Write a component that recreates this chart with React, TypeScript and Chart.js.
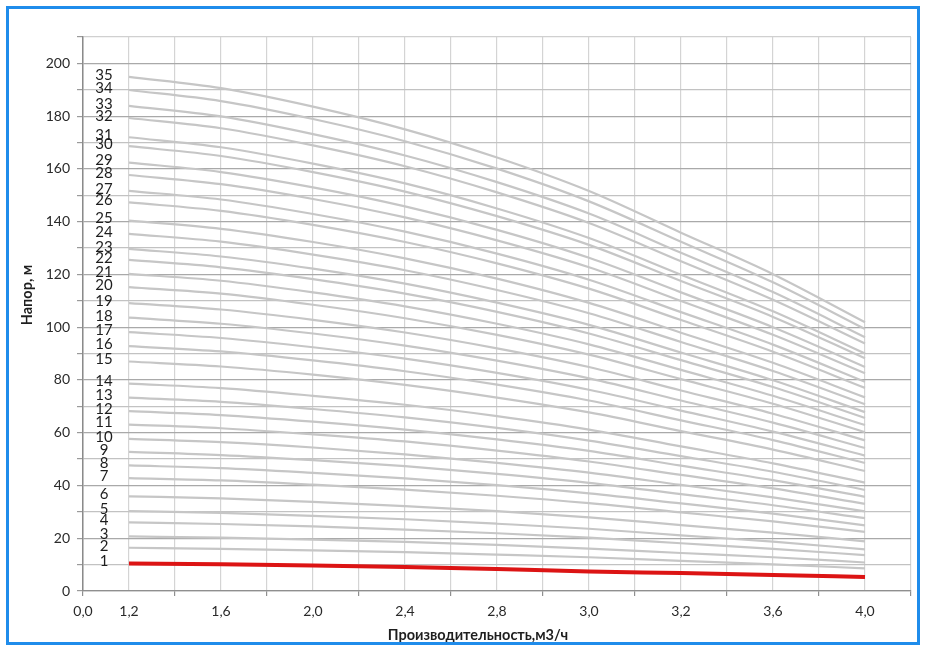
import React, { useEffect, useRef } from "react";
import { Chart, registerables } from "chart.js";

Chart.register(...registerables);

// Flow categories (m3/h) and their slot positions on the category grid
const flowLabels = ["1,2", "1,6", "2,0", "2,4", "2,8", "3,0", "3,2", "3,6", "4,0"];
const flowPositions = [1, 3, 5, 7, 9, 11, 13, 15, 17];

// X tick labels shown under the axis
const xTickLabels = ["0,0", "1,2", "1,6", "2,0", "2,4", "2,8", "3,0", "3,2", "3,6", "4,0"];
const xTickPositions = [0, 1, 3, 5, 7, 9, 11, 13, 15, 17];

const xTitle = "Производительность,м3/ч";
const yTitle = "Напор, м";

// Head (m) per stage count, read at each flow category
const stage01 = [10.4, 10.1, 9.7, 9.1, 8.3, 7.4, 6.8, 6.1, 5.3];
const stage02 = [16.4, 16.0, 15.4, 14.7, 13.8, 12.8, 11.4, 10.1, 8.6];
const stage03 = [20.7, 20.2, 19.5, 18.6, 17.5, 16.1, 14.4, 12.8, 10.8];
const stage04 = [26.0, 25.4, 24.5, 23.3, 21.9, 20.2, 18.1, 16.0, 13.6];
const stage05 = [30.3, 29.6, 28.5, 27.2, 25.5, 23.6, 21.1, 18.7, 15.8];
const stage06 = [35.9, 35.1, 33.8, 32.2, 30.3, 27.9, 25.0, 22.1, 18.8];
const stage07 = [42.8, 41.9, 40.3, 38.4, 36.1, 33.3, 29.8, 26.4, 22.4];
const stage08 = [47.6, 46.6, 44.8, 42.7, 40.1, 37.0, 33.2, 29.3, 24.9];
const stage09 = [52.7, 51.5, 49.6, 47.3, 44.4, 41.0, 36.7, 32.5, 27.6];
const stage10 = [57.7, 56.4, 54.4, 51.8, 48.6, 44.9, 40.2, 35.5, 30.2];
const stage11 = [63.1, 61.7, 59.4, 56.7, 53.2, 49.1, 44.0, 38.9, 33.0];
const stage12 = [68.2, 66.7, 64.2, 61.2, 57.5, 53.1, 47.5, 42.0, 35.7];
const stage13 = [73.3, 71.7, 69.0, 65.8, 61.8, 57.0, 51.1, 45.2, 38.3];
const stage14 = [78.6, 76.9, 74.0, 70.6, 66.3, 61.2, 54.8, 48.4, 41.1];
const stage15 = [87.0, 85.1, 82.0, 78.1, 73.3, 67.7, 60.6, 53.6, 45.5];
const stage16 = [92.8, 90.8, 87.4, 83.3, 78.2, 72.2, 64.7, 57.2, 48.5];
const stage17 = [98.1, 95.9, 92.4, 88.1, 82.7, 76.3, 68.4, 60.4, 51.3];
const stage18 = [103.6, 101.3, 97.6, 93.0, 87.3, 80.6, 72.2, 63.8, 54.2];
const stage19 = [109.1, 106.7, 102.8, 98.0, 92.0, 84.9, 76.0, 67.2, 57.1];
const stage20 = [115.2, 112.7, 108.5, 103.4, 97.1, 89.6, 80.3, 71.0, 60.2];
const stage21 = [120.2, 117.6, 113.2, 107.9, 101.3, 93.5, 83.8, 74.0, 62.9];
const stage22 = [125.5, 122.7, 118.2, 112.7, 105.8, 97.6, 87.5, 77.3, 65.6];
const stage23 = [129.7, 126.8, 122.2, 116.5, 109.3, 100.9, 90.4, 79.9, 67.8];
const stage24 = [135.4, 132.4, 127.5, 121.6, 114.1, 105.3, 94.4, 83.4, 70.8];
const stage25 = [140.4, 137.3, 132.3, 126.1, 118.4, 109.2, 97.9, 86.5, 73.4];
const stage26 = [147.3, 144.1, 138.8, 132.3, 124.2, 114.6, 102.7, 90.7, 77.0];
const stage27 = [151.7, 148.4, 142.9, 136.2, 127.9, 118.0, 105.7, 93.4, 79.3];
const stage28 = [157.7, 154.2, 148.6, 141.6, 132.9, 122.7, 109.9, 97.1, 82.5];
const stage29 = [162.4, 158.8, 153.0, 145.8, 136.9, 126.3, 113.2, 100.0, 84.9];
const stage30 = [168.6, 164.9, 158.8, 151.4, 142.1, 131.2, 117.5, 103.9, 88.2];
const stage31 = [172.0, 168.2, 162.0, 154.5, 145.0, 133.8, 119.9, 106.0, 90.0];
const stage32 = [179.3, 175.4, 168.9, 161.0, 151.1, 139.5, 125.0, 110.4, 93.8];
const stage33 = [183.9, 179.9, 173.2, 165.1, 155.0, 143.1, 128.2, 113.3, 96.2];
const stage34 = [189.9, 185.7, 178.9, 170.5, 160.1, 147.7, 132.4, 117.0, 99.3];
const stage35 = [194.9, 190.6, 183.6, 175.0, 164.3, 151.6, 135.8, 120.1, 101.9];

const stages = [
  stage01, stage02, stage03, stage04, stage05, stage06, stage07, stage08, stage09, stage10,
  stage11, stage12, stage13, stage14, stage15, stage16, stage17, stage18, stage19, stage20,
  stage21, stage22, stage23, stage24, stage25, stage26, stage27, stage28, stage29, stage30,
  stage31, stage32, stage33, stage34, stage35,
];
const stageNames = [
  "1", "2", "3", "4", "5", "6", "7", "8", "9", "10",
  "11", "12", "13", "14", "15", "16", "17", "18", "19", "20",
  "21", "22", "23", "24", "25", "26", "27", "28", "29", "30",
  "31", "32", "33", "34", "35",
];

const FONT = "Lato, 'Open Sans', sans-serif";

export default function App() {
  const canvasRef = useRef<HTMLCanvasElement | null>(null);

  useEffect(() => {
    const canvas = canvasRef.current;
    if (!canvas) return;

    const overlay = {
      id: "overlay",
      afterDraw(chart: any) {
        const { ctx } = chart;
        const xs = chart.scales.x;
        const ys = chart.scales.y;
        ctx.save();
        ctx.fillStyle = "#1e1e1e";
        ctx.textAlign = "center";
        ctx.textBaseline = "middle";
        ctx.font = `15px ${FONT}`;
        stages.forEach((vals, i) => {
          const px = xs.getPixelForValue(flowPositions[0]) - 25;
          const py = ys.getPixelForValue(vals[0]) - 2;
          ctx.fillText(stageNames[i], px, py);
        });
        ctx.font = `bold 14.5px ${FONT}`;
        ctx.fillText(xTitle, 478, 635);
        ctx.translate(27, 295);
        ctx.rotate(-Math.PI / 2);
        ctx.fillText(yTitle, 0, 0);
        ctx.restore();
      },
    };

    const datasets = stages.map((vals, i) => ({
      label: stageNames[i],
      data: vals.map((v, j) => ({ x: flowPositions[j], y: v })),
      borderColor: i === 0 ? "#dc1414" : "#c6c6c6",
      borderWidth: i === 0 ? 4 : 2.2,
      pointRadius: 0,
      fill: false,
      cubicInterpolationMode: "monotone" as const,
    }));

    const chart = new Chart(canvas, {
      type: "line",
      data: { datasets },
      options: {
        animation: false,
        responsive: false,
        maintainAspectRatio: false,
        layout: { padding: { left: 0, top: 37, right: 15, bottom: 0 } },
        plugins: { legend: { display: false }, tooltip: { enabled: false } },
        scales: {
          x: {
            type: "linear",
            min: 0,
            max: 18,
            afterFit: (s: any) => {
              s.height = 61;
            },
            ticks: {
              stepSize: 1,
              autoSkip: false,
              maxRotation: 0,
              padding: 7,
              color: "#2a2a2a",
              font: { family: FONT, size: 14 },
              callback: (v: any) => {
                const k = xTickPositions.indexOf(Number(v));
                return k >= 0 ? xTickLabels[k] : "";
              },
            },
            grid: {
              color: "#d4d4d4",
              lineWidth: 1.2,
              tickLength: 5,
              tickColor: (c: any) =>
                c.tick && Number(c.tick.value) % 2 === 0 ? "#8f8f8f" : "rgba(0,0,0,0)",
            },
            border: { color: "#8f8f8f", width: 1.2 },
          },
          y: {
            type: "linear",
            min: 0,
            max: 210,
            afterFit: (s: any) => {
              s.width = 83;
            },
            ticks: {
              stepSize: 10,
              padding: 7,
              color: "#2a2a2a",
              font: { family: FONT, size: 14 },
              callback: (v: any) => (Number(v) % 20 === 0 ? String(v) : ""),
            },
            grid: {
              color: (c: any) => {
                const v = c.tick ? Number(c.tick.value) : 0;
                if (v === 210) return "#d0d0d0";
                return v % 20 === 0 ? "#a9a9a9" : "#c2c2c2";
              },
              lineWidth: 1.2,
              tickLength: 6,
              tickColor: "#9a9a9a",
            },
            border: { color: "#8a8a8a", width: 1.5 },
          },
        },
      },
      plugins: [overlay],
    });

    return () => chart.destroy();
  }, []);

  return (
    <div
      style={{
        position: "fixed",
        left: 0,
        top: 0,
        width: 926,
        height: 652,
        overflow: "hidden",
        background: "#ffffff",
      }}
    >
      <canvas
        ref={canvasRef}
        width={926}
        height={652}
        style={{ position: "absolute", left: 0, top: 0, width: 926, height: 652 }}
      />
      <div
        style={{
          position: "absolute",
          left: 6,
          top: 6,
          width: 914,
          height: 639,
          border: "3px solid #1f8ceb",
          boxSizing: "border-box",
          pointerEvents: "none",
        }}
      />
    </div>
  );
}
